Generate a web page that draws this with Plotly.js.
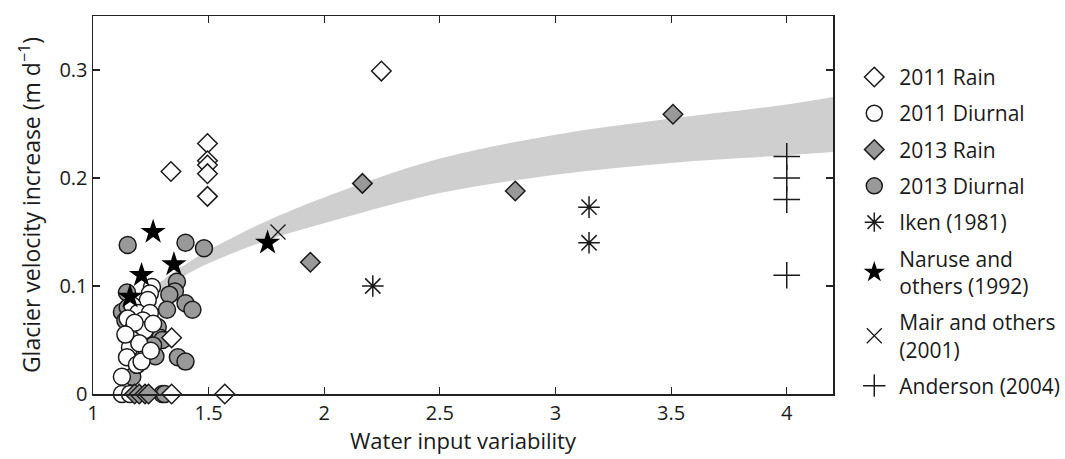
<!DOCTYPE html>
<html><head><meta charset="utf-8">
<script src="https://cdn.plot.ly/plotly-3.0.1.min.js"></script>
<style>html,body{margin:0;padding:0;background:#fff;}#chart{width:1065px;height:459px;}</style>
</head><body><div id="chart"></div>
<script>
// Model band
const bandX     = [1.15, 1.2, 1.3, 1.4, 1.5, 1.75, 2.0, 2.5, 3.0, 3.5, 4.0, 4.2];
const bandLower = [0.064, 0.078, 0.097, 0.110, 0.121, 0.142, 0.158, 0.186, 0.203, 0.214, 0.221, 0.224];
const bandUpper = [0.068, 0.084, 0.105, 0.120, 0.133, 0.160, 0.182, 0.218, 0.240, 0.255, 0.268, 0.275];

const rain2011X = [1.337, 1.495, 1.495, 1.495, 1.495, 1.495, 2.247, 1.34, 1.57, 1.34];
const rain2011Y = [0.206, 0.232, 0.216, 0.212, 0.204, 0.183, 0.299, 0.052, 0.0, 0.0];

const diur2011X = [1.255,1.246,1.237,1.17,1.195,1.246,1.216,1.15,1.17,1.224,1.17,1.16,1.233,1.147,1.19,1.125,1.125,1.16,1.2,1.26,1.21,1.18,1.25,1.14];
const diur2011Y = [0.099,0.093,0.087,0.082,0.075,0.075,0.068,0.070,0.059,0.059,0.050,0.043,0.039,0.034,0.027,0.016,0.0,0.0,0.047,0.065,0.030,0.066,0.040,0.055];

const rain2013X = [1.94, 2.165, 2.826, 3.508, 1.18, 1.2, 1.225, 1.24];
const rain2013Y = [0.122, 0.195, 0.188, 0.259, 0.0, 0.0, 0.0, 0.0];

const diur2013X = [1.15,1.40,1.48,1.363,1.354,1.33,1.40,1.43,1.147,1.125,1.32,1.367,1.40,1.14,1.28,1.29,1.30,1.17,1.30,1.31,1.22,1.26,1.15,1.20,1.27];
const diur2013Y = [0.138,0.140,0.135,0.104,0.095,0.092,0.084,0.078,0.094,0.076,0.078,0.034,0.030,0.068,0.062,0.052,0.050,0.016,0.0,0.0,0.055,0.045,0.080,0.062,0.035];

const ikenX = [3.145, 3.145, 2.21];
const ikenY = [0.173, 0.140, 0.100];

const naruseX = [1.26, 1.21, 1.16, 1.35, 1.755];
const naruseY = [0.150, 0.110, 0.090, 0.120, 0.140];

const mairX = [1.80];
const mairY = [0.150];

const andersonX = [4, 4, 4, 4];
const andersonY = [0.22, 0.20, 0.18, 0.11];

const xTicks = [1, 1.5, 2, 2.5, 3, 3.5, 4];
const xTickText = ['1', '1.5', '2', '2.5', '3', '3.5', '4'];
const yTicks = [0, 0.1, 0.2, 0.3];
const yTickText = ['0', '0.1', '0.2', '0.3'];

const GRAY = '#999999';
const INK = '#1a1a1a';
const base = {type: 'scatter', mode: 'markers', cliponaxis: false};

const traces = [
  {x: bandX, y: bandLower, mode: 'lines', line: {width: 0, color: '#cfcfcf', shape: 'spline'}, showlegend: false, hoverinfo: 'skip', type: 'scatter'},
  {x: bandX, y: bandUpper, mode: 'lines', line: {width: 0, color: '#cfcfcf', shape: 'spline'}, fill: 'tonexty', fillcolor: '#cfcfcf', showlegend: false, hoverinfo: 'skip', type: 'scatter'},
  Object.assign({}, base, {name: '2013 Diurnal', legendrank: 4, legendgroup: 'g4', x: diur2013X, y: diur2013Y,
    marker: {symbol: 'circle', size: 17, color: GRAY, line: {color: INK, width: 1.5}}}),
  Object.assign({}, base, {name: '2011 Diurnal', legendrank: 2, legendgroup: 'g2', x: diur2011X, y: diur2011Y,
    marker: {symbol: 'circle', size: 17, color: '#ffffff', line: {color: INK, width: 1.5}}}),
  Object.assign({}, base, {name: '2013 Rain', legendrank: 3, legendgroup: 'g3', x: rain2013X, y: rain2013Y,
    marker: {symbol: 'diamond', size: 15, color: GRAY, line: {color: INK, width: 1.5}}}),
  Object.assign({}, base, {name: '2011 Rain', legendrank: 1, legendgroup: 'g1', x: rain2011X, y: rain2011Y,
    marker: {symbol: 'diamond', size: 15, color: '#ffffff', line: {color: INK, width: 1.5}}}),
  Object.assign({}, base, {name: 'Iken (1981)', legendrank: 5, legendgroup: 'g5', x: ikenX, y: ikenY,
    marker: {symbol: 'asterisk-open', size: 18, color: INK, line: {color: INK, width: 1.5}}}),
  Object.assign({}, base, {name: 'Naruse and<br>others (1992)', legendrank: 6, legendgroup: 'g6', x: naruseX, y: naruseY,
    marker: {symbol: 'star', size: 19, color: '#000000', line: {color: '#000000', width: 0}}}),
  Object.assign({}, base, {name: 'Mair and others<br>(2001)', legendrank: 7, legendgroup: 'g7', x: mairX, y: mairY,
    marker: {symbol: 'x-thin-open', size: 15, color: INK, line: {color: INK, width: 1.3}}}),
  Object.assign({}, base, {name: 'Anderson (2004)', legendrank: 8, legendgroup: 'g8', x: andersonX, y: andersonY,
    marker: {symbol: 'cross-thin-open', size: 19, color: INK, line: {color: INK, width: 1.5}}})
];

const axisCommon = {
  showgrid: false, zeroline: false, showline: true, linecolor: '#222', linewidth: 1.5,
  mirror: 'ticks', ticks: 'inside', ticklen: 7, tickwidth: 1.2, tickcolor: '#222',
  tickfont: {size: 20, color: INK}
};

const layout = {
  width: 1065, height: 459,
  margin: {l: 93, r: 232, t: 16, b: 65, autoexpand: false},
  paper_bgcolor: '#ffffff', plot_bgcolor: '#ffffff',
  font: {family: 'Open Sans, Noto Sans, sans-serif', size: 20, color: INK},
  xaxis: Object.assign({}, axisCommon, {range: [1, 4.2], tickvals: xTicks, ticktext: xTickText,
    title: {text: 'Water input variability', font: {size: 22, color: INK}, standoff: 3}}),
  yaxis: Object.assign({}, axisCommon, {range: [0, 0.35], tickvals: yTicks, ticktext: yTickText}),
  annotations: [{
    text: 'Glacier velocity increase (m d<sup>\u22121</sup>)', textangle: -90,
    xref: 'paper', yref: 'paper', x: -0.085, y: 0.5, xanchor: 'center', yanchor: 'middle',
    showarrow: false, font: {size: 23, color: INK}
  }],
  showlegend: true,
  legend: {x: 1.022, xanchor: 'left', y: 0.892, yanchor: 'top', traceorder: 'grouped', tracegroupgap: 6,
    itemwidth: 40, font: {size: 21, color: INK}, bgcolor: 'rgba(0,0,0,0)'}
};

Plotly.newPlot('chart', traces, layout, {displayModeBar: false, staticPlot: true});
</script></body></html>
